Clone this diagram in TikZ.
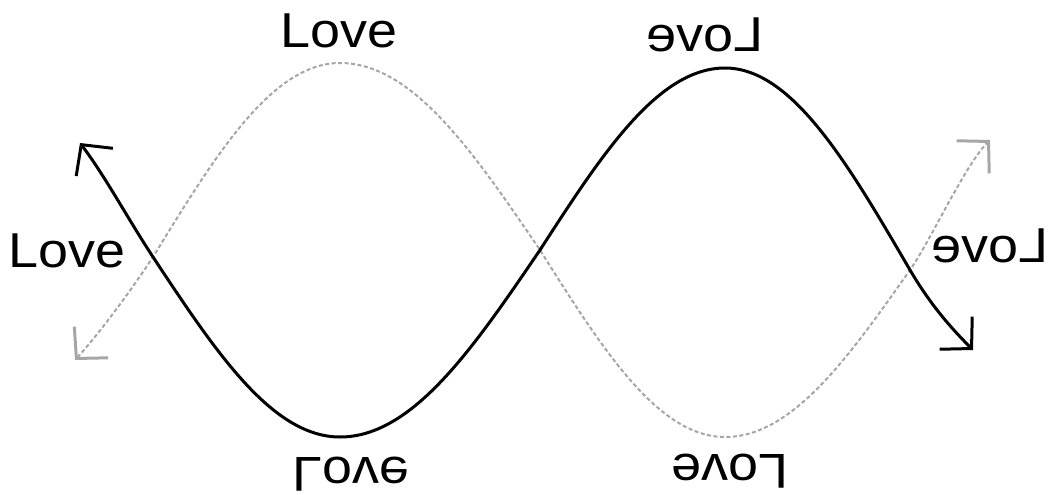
\documentclass[tikz,border=0pt]{standalone}
\usepackage{fontspec}
\setmainfont{Liberation Sans}
\usetikzlibrary{arrows.meta}
\newcommand{\wordlove}{\scalebox{1.1}[1]{Love}}
\tikzset{
  lbl/.style={inner sep=0pt, anchor=center, font=\fontsize{49}{49}\selectfont},
  barb/.style={{Straight Barb[length=22pt,width=46pt,line width=3pt]}-{Straight Barb[length=22pt,width=46pt,line width=3pt]}},
  blackwave/.style={draw=black, line width=3pt, barb},
  graywave/.style={draw=gray!70, line width=2pt, dash pattern=on 4pt off 2.5pt, barb}
}
\begin{document}
\begin{tikzpicture}[x=1pt,y=-1pt]
\useasboundingbox (0,0) rectangle (1050,495);
% key points
\coordinate (bs) at (80,143);
\coordinate (A) at (153,257);
\coordinate (B) at (340,437);
\coordinate (C) at (540,250);
\coordinate (D) at (725,68);
\coordinate (E) at (910,270);
\coordinate (be) at (973,350);
\coordinate (gs) at (75,360);
\coordinate (B2) at (340,63);
\coordinate (D2) at (725,437);
\coordinate (ge) at (990,140);
% gray dotted wave
\path[graywave] (gs) .. controls (97,336) and (128,295) .. (A)
  .. controls (215.5,155) and (272,63) .. (B2)
  .. controls (412.6,63) and (473.2,151.8) .. (C)
  .. controls (601.8,348.2) and (657.8,437) .. (D2)
  .. controls (792.2,437) and (848.2,357.7) .. (E)
  .. controls (930,241.6) and (965,165) .. (ge);
% black wave
\path[blackwave] (bs) .. controls (105,176) and (128,219) .. (A)
  .. controls (215.5,351.5) and (272,437) .. (B)
  .. controls (412.6,437) and (473.2,348.2) .. (C)
  .. controls (601.8,154.4) and (657.8,68) .. (D)
  .. controls (792.2,68) and (848.2,164) .. (E)
  .. controls (930,304) and (950,327) .. (be);
% labels
\node[lbl] (t1) at (339,30.5) {\wordlove};
\node[lbl] (t2) at (705,35) {\reflectbox{\wordlove}};
\node[lbl] (l1) at (67,250.5) {\wordlove};
\node[lbl] (r1) at (990,245.5) {\reflectbox{\wordlove}};
\node[lbl] (b1) at (351,474.5) {\scalebox{1}[-1]{\wordlove}};
\node[lbl] (b2) at (730,471) {\rotatebox{180}{\wordlove}};
\end{tikzpicture}
\end{document}
